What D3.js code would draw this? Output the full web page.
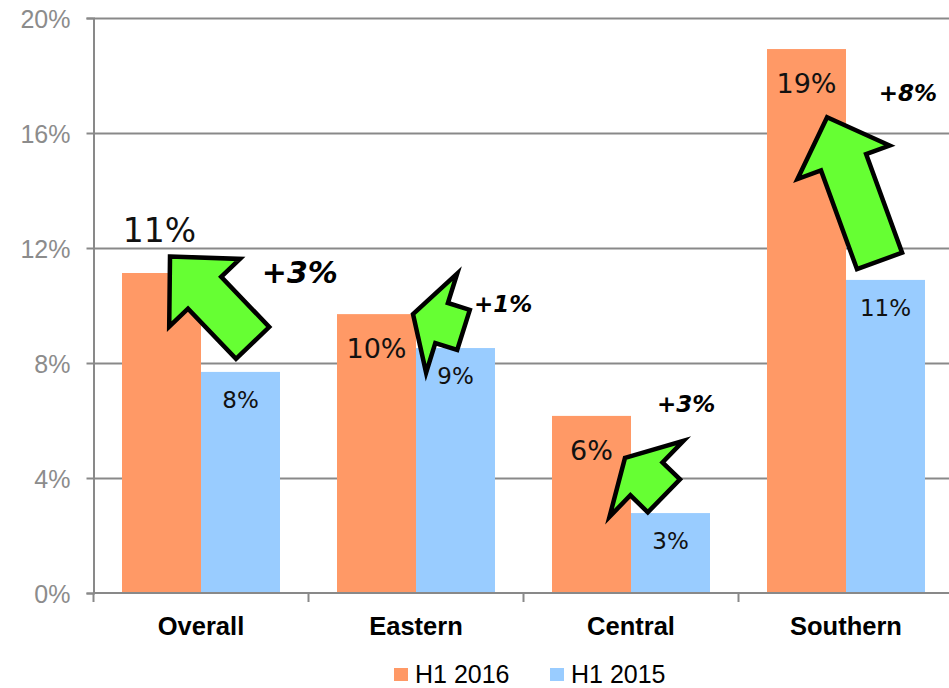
<!DOCTYPE html>
<html>
<head>
<meta charset="utf-8">
<script src="https://cdn.jsdelivr.net/npm/d3@7"></script>
<style>
  body { margin: 0; background: #fff; }
  svg { display: block; }
</style>
</head>
<body>
<div id="chart"></div>
<script>
// data
const categories = ["Overall", "Eastern", "Central", "Southern"]
const seriesNames = ["H1 2016", "H1 2015"]
const h1_2016 = [11.13, 9.70, 6.16, 18.92]
const h1_2015 = [7.69, 8.52, 2.78, 10.89]
const yTicks = [0, 4, 8, 12, 16, 20]
const changeLabels = ["+3%", "+1%", "+3%", "+8%"]

// arrow annotations, in data units (x = category position, y = percent)
const arrowTips = [[0.356, 11.70], [1.486, 9.70], [2.472, 4.70], [3.412, 16.55]]
const arrowTails = [[0.740, 8.70], [1.721, 9.15], [2.653, 3.38], [3.656, 11.55]]
const changePos = [[0.960, 10.80], [1.905, 9.76], [2.756, 6.28], [3.788, 17.12]]

const W = 949, H = 688
const plot = { left: 93.5, right: 953.5, top: 18, bottom: 593 }
const colors = { "H1 2016": "#FF9966", "H1 2015": "#99CCFF" }
const gridColor = "#898989"

const svg = d3.select("#chart").append("svg")
    .attr("width", W)
    .attr("height", H)

// scales
let x = d3.scaleBand().domain(categories).range([plot.left, plot.right]).padding(0)
let barW = 79
let xSub = d3.scaleBand().domain(seriesNames).range([0, x.bandwidth()])
    .paddingInner(0).paddingOuter((x.bandwidth() / barW - 2) / 2)
let xc = d3.scaleLinear().domain([0, categories.length]).range([plot.left, plot.right])
let y = d3.scaleLinear().domain([0, 20]).range([plot.bottom, plot.top])

// gridlines
svg.append("g")
    .attr("transform", "translate(" + plot.left + ",0)")
    .call(d3.axisLeft(y).tickValues(yTicks.slice(1)).tickSize(-(plot.right - plot.left)).tickFormat(""))
    .call(g => g.select(".domain").remove())
    .call(g => g.selectAll("line").attr("stroke", gridColor).attr("stroke-width", 2))

// y axis
svg.append("g")
    .attr("transform", "translate(" + plot.left + ",0)")
    .call(d3.axisLeft(y).tickValues(yTicks).tickSize(7).tickPadding(16).tickFormat(d => d + "%"))
    .call(g => g.select(".domain").attr("stroke", gridColor).attr("stroke-width", 2))
    .call(g => g.selectAll("line").attr("stroke", gridColor).attr("stroke-width", 2))
    .call(g => g.selectAll("text")
        .attr("fill", "#8c8c8c")
        .attr("font-family", "'Liberation Sans', Arial, sans-serif")
        .attr("font-size", 25)
        .attr("dy", "0.36em"))

// bars
const rows = categories.map((c, i) => ({ cat: c, vals: [h1_2016[i], h1_2015[i]] }))

let groups = svg.append("g").selectAll("g")
    .data(rows).join("g")
    .attr("transform", d => "translate(" + x(d.cat) + ",0)")

groups.selectAll("rect")
    .data(d => d.vals.map((v, k) => ({ series: seriesNames[k], v: v })))
    .join("rect")
    .attr("x", d => xSub(d.series))
    .attr("y", d => y(d.v))
    .attr("width", xSub.bandwidth())
    .attr("height", d => y(0) - y(d.v))
    .attr("fill", d => colors[d.series])

// value labels
groups.selectAll("text.val")
    .data((d, i) => d.vals.map((v, k) => ({ series: seriesNames[k], v: v, cat: i })))
    .join("text")
    .attr("class", "val")
    .attr("x", d => xSub(d.series) + xSub.bandwidth() / 2 - (d.cat == 0 && d.series == "H1 2016" ? 2 : 0))
    .attr("y", d => {
        if (d.series == "H1 2016" && d.cat == 0) return y(d.v) - 31   // sits above the bar
        return y(d.v) + (d.series == "H1 2016" ? 44 : 36)
    })
    .attr("text-anchor", "middle")
    .attr("font-family", "'DejaVu Sans', Verdana, sans-serif")
    .attr("font-size", d => (d.series == "H1 2016" ? (d.cat == 0 ? 33 : 27) : 23))
    .attr("fill", "#111")
    .text(d => Math.round(d.v) + "%")

// x axis line + ticks at group edges
svg.append("line")
    .attr("x1", plot.left).attr("x2", plot.right)
    .attr("y1", y(0)).attr("y2", y(0))
    .attr("stroke", gridColor).attr("stroke-width", 2)

svg.append("g").selectAll("line")
    .data(d3.range(categories.length + 1))
    .join("line")
    .attr("x1", i => xc(i)).attr("x2", i => xc(i))
    .attr("y1", y(0)).attr("y2", y(0) + 9)
    .attr("stroke", gridColor).attr("stroke-width", 2)

svg.append("g").selectAll("text")
    .data(categories)
    .join("text")
    .attr("x", d => x(d) + x.bandwidth() / 2)
    .attr("y", 635)
    .attr("text-anchor", "middle")
    .attr("font-family", "'Liberation Sans', Arial, sans-serif")
    .attr("font-weight", "bold")
    .attr("font-size", 25.5)
    .attr("fill", "#000")
    .text(d => d)

// arrows
const arrowSize = [
    { hl: 50, hw: 49, sw: 23 },
    { hl: 30, hw: 52, sw: 21 },
    { hl: 30, hw: 53, sw: 23 },
    { hl: 48, hw: 49, sw: 24 }
]

function arrow_path(tip, tail, s) {
    let dx = tip[0] - tail[0], dy = tip[1] - tail[1]
    let len = Math.sqrt(dx * dx + dy * dy)
    let ux = dx / len, uy = dy / len
    let nx = -uy, ny = ux
    let nk = [tip[0] - ux * s.hl, tip[1] - uy * s.hl]
    let pts = [
        tip,
        [nk[0] + nx * s.hw, nk[1] + ny * s.hw],
        [nk[0] + nx * s.sw, nk[1] + ny * s.sw],
        [tail[0] + nx * s.sw, tail[1] + ny * s.sw],
        [tail[0] - nx * s.sw, tail[1] - ny * s.sw],
        [nk[0] - nx * s.sw, nk[1] - ny * s.sw],
        [nk[0] - nx * s.hw, nk[1] - ny * s.hw]
    ]
    return "M" + pts.map(p => p[0].toFixed(1) + "," + p[1].toFixed(1)).join("L") + "Z"
}

svg.append("g").selectAll("path")
    .data(arrowTips.map((t, i) => i))
    .join("path")
    .attr("d", i => arrow_path(
        [xc(arrowTips[i][0]), y(arrowTips[i][1])],
        [xc(arrowTails[i][0]), y(arrowTails[i][1])],
        arrowSize[i]))
    .attr("fill", "#66FF33")
    .attr("stroke", "#000")
    .attr("stroke-width", 4.5)
    .attr("stroke-linejoin", "miter")

svg.append("g").selectAll("text")
    .data(changeLabels)
    .join("text")
    .attr("x", (d, i) => xc(changePos[i][0]))
    .attr("y", (d, i) => y(changePos[i][1]))
    .attr("text-anchor", "middle")
    .attr("font-family", "'DejaVu Sans', sans-serif")
    .attr("font-style", "italic")
    .attr("font-weight", "bold")
    .attr("font-size", (d, i) => (i == 0 ? 30 : 23))
    .attr("fill", "#000")
    .text(d => d)

// legend
let legend = svg.append("g").selectAll("g")
    .data(seriesNames)
    .join("g")
    .attr("transform", (d, i) => "translate(" + (394 + i * 156) + ",668)")

legend.append("rect")
    .attr("width", 14).attr("height", 13)
    .attr("fill", d => colors[d])

legend.append("text")
    .attr("x", 21).attr("y", 15)
    .attr("font-family", "'Liberation Sans', Arial, sans-serif")
    .attr("font-size", 25)
    .attr("fill", "#000")
    .text(d => d)
</script>
</body>
</html>
